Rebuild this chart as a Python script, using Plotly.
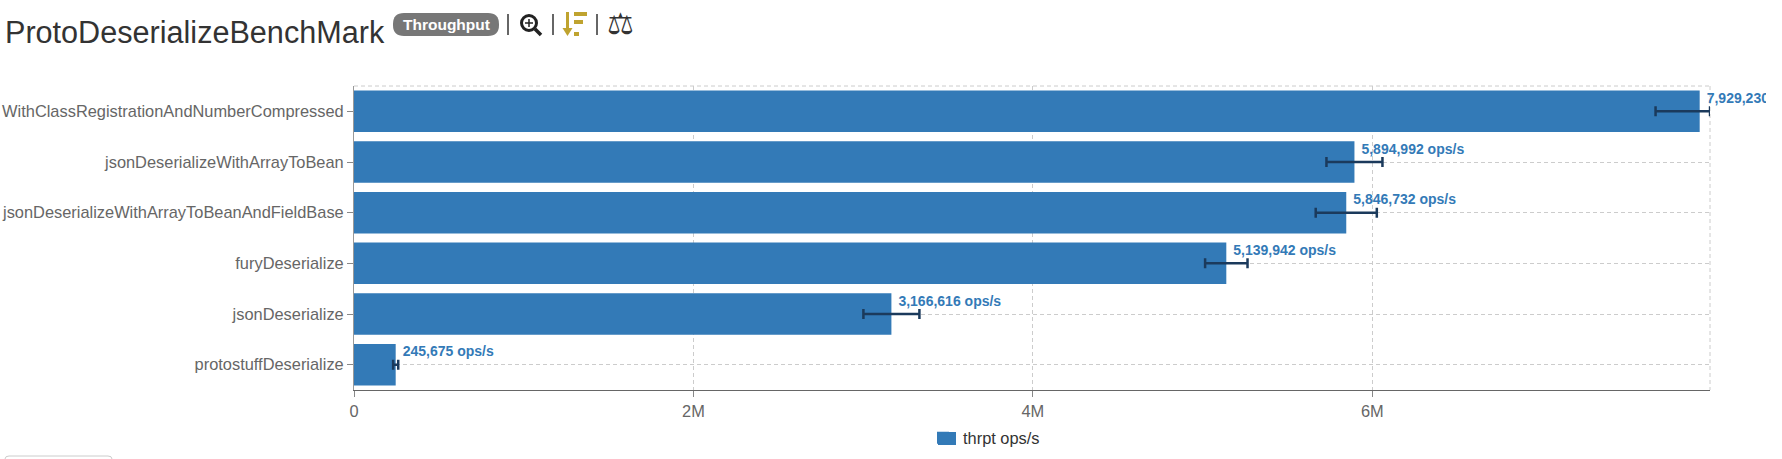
import plotly.graph_objects as go

categories = ["WithClassRegistrationAndNumberCompressed", "jsonDeserializeWithArrayToBean",
              "jsonDeserializeWithArrayToBeanAndFieldBase", "furyDeserialize",
              "jsonDeserialize", "protostuffDeserialize"]
thrpt = [7929230, 5894992, 5846732, 5139942, 3166616, 245675]
err_plus = [61000, 165000, 180000, 125000, 165000, 15000]
err_minus = [260000, 165000, 180000, 125000, 165000, 15000]
labels = ["7,929,230 ops/s", "5,894,992 ops/s", "5,846,732 ops/s", "5,139,942 ops/s", "3,166,616 ops/s", "245,675 ops/s"]
ticks = [0, 2000000, 4000000, 6000000]
tick_text = ["0", "2M", "4M", "6M"]
title = "ProtoDeserializeBenchMark"
badge = "Throughput"
legend_name = "thrpt ops/s"

W, H = 1782, 459
L, R, T, B, CLIP = 354, 1710, 86, 390, 1766
XMAX = 7990000
XMAX2 = XMAX * (CLIP - L) / (R - L)
BLUE = "#337ab7"
GOLD = "#bfa32f"
INK = "#222222"
def px(x): return (x - L) / (CLIP - L)
def py(y): return (B - y) / (B - T)
PXPERVAL = (R - L) / XMAX
ROWPX = (B - T) / len(categories)

fig = go.Figure()
fig.add_trace(go.Bar(y=categories, x=thrpt, orientation="h", name=legend_name, width=0.82,
                     marker=dict(color=BLUE, line=dict(width=0)),
                     error_x=dict(type="data", symmetric=False, array=err_plus, arrayminus=err_minus,
                                  color="#1b3a5c", thickness=2.5, width=5),
                     cliponaxis=False, hoverinfo="x+y"))
n = len(thrpt)
fig.add_trace(go.Scatter(x=[v + 7 / PXPERVAL for v in thrpt],
                         y=[n - 1 - i + 5 / ROWPX for i in range(n)],
                         text=labels, mode="text", textposition="top right",
                         textfont=dict(family="Liberation Sans", size=14, color=BLUE, weight="bold"),
                         xaxis="x2", yaxis="y2", showlegend=False, cliponaxis=True, hoverinfo="skip"))

axfont = dict(family="Liberation Sans", size=16.4, color="#666666")
GRID = "4px,3px"
fig.update_layout(
    width=W, height=H, autosize=False, paper_bgcolor="white", plot_bgcolor="rgba(0,0,0,0)",
    margin=dict(l=L, r=W - CLIP, t=T, b=H - B, pad=0, autoexpand=False), bargap=0.18,
    font=dict(family="Liberation Sans", size=14, color="#333333"),
    xaxis=dict(range=[0, XMAX], domain=[0, px(R)], tickvals=ticks, ticktext=tick_text, tickfont=axfont,
               ticks="outside", ticklen=6, tickcolor="#888888", showline=True, linecolor="#666666", linewidth=1,
               showgrid=True, gridcolor="#cccccc", griddash=GRID, gridwidth=1, zeroline=False),
    yaxis=dict(categoryorder="array", categoryarray=categories[::-1], tickfont=axfont, ticks="outside", ticklen=6,
               tickcolor="#888888", showline=True, linecolor="#999999", linewidth=1,
               showgrid=True, gridcolor="#cccccc", griddash=GRID, gridwidth=1, zeroline=False),
    xaxis2=dict(range=[0, XMAX2], domain=[0, 1], anchor="y2", visible=False),
    yaxis2=dict(range=[-0.5, 5.5], domain=[0, 1], anchor="x2", visible=False),
    legend=dict(orientation="h", x=px(923), y=py(438), xanchor="left", yanchor="middle", bgcolor="rgba(0,0,0,0)",
                font=dict(family="Liberation Sans", size=16.4, color="#333333"), itemwidth=30),
    showlegend=True,
)

def line(x0, y0, x1, y1, color, width, dash="solid", layer="above"):
    return dict(type="line", xref="paper", yref="paper", x0=px(x0), x1=px(x1), y0=py(y0), y1=py(y1),
                line=dict(color=color, width=width, dash=dash), layer=layer)
def rect(x0, y0, x1, y1, fill):
    return dict(type="rect", xref="paper", yref="paper", x0=px(x0), x1=px(x1), y0=py(y0), y1=py(y1),
                fillcolor=fill, line=dict(width=0))
def pill(x0, y0, x1, y1, r, fill):
    p = (f"M {px(x0+r)} {py(y0)} L {px(x1-r)} {py(y0)} Q {px(x1)} {py(y0)} {px(x1)} {py(y0+r)} "
         f"L {px(x1)} {py(y1-r)} Q {px(x1)} {py(y1)} {px(x1-r)} {py(y1)} L {px(x0+r)} {py(y1)} "
         f"Q {px(x0)} {py(y1)} {px(x0)} {py(y1-r)} L {px(x0)} {py(y0+r)} Q {px(x0)} {py(y0)} {px(x0+r)} {py(y0)} Z")
    return dict(type="path", xref="paper", yref="paper", path=p, fillcolor=fill, line=dict(width=0))

shapes = [
    line(L, T, R, T, "#cccccc", 1, GRID, "below"),
    line(R, T, R, B, "#cccccc", 1, GRID, "below"),
    pill(393, 13, 499, 36, 11, "#777777"),
    line(508, 14, 508, 35, "#333333", 1.5),
    line(553, 14, 553, 35, "#333333", 1.5),
    line(597, 14, 597, 35, "#333333", 1.5),
    dict(type="circle", xref="paper", yref="paper", x0=px(521.5), x1=px(536.5), y0=py(30.5), y1=py(15.5), line=dict(color=INK, width=3)),
    line(535, 29, 541, 35, INK, 3.5),
    line(525, 23, 533, 23, INK, 1.5),
    line(529, 19, 529, 27, INK, 1.5),
    rect(574, 12, 587, 16, GOLD),
    rect(574, 20, 583, 24, GOLD),
    rect(574, 32, 579, 36, GOLD),
    line(567.5, 12, 567.5, 30, GOLD, 3),
    dict(type="path", xref="paper", yref="paper", path=f"M {px(562.5)} {py(28)} L {px(572.5)} {py(28)} L {px(567.5)} {py(36)} Z",
         fillcolor=GOLD, line=dict(width=0)),
    rect(938, 432, 956, 445, BLUE),
    dict(type="path", xref="paper", yref="paper",
         path=f"M {px(5)} {py(470)} L {px(5)} {py(459)} Q {px(5)} {py(456)} {px(9)} {py(456)} L {px(108)} {py(456)} Q {px(112)} {py(456)} {px(112)} {py(459)} L {px(112)} {py(470)}",
         line=dict(color="#cccccc", width=1)),
]
annos = [
    dict(text=title, x=px(3), y=py(32), xref="paper", yref="paper", xanchor="left", yanchor="middle", showarrow=False,
         font=dict(family="Liberation Sans", size=30.6, color="#333333")),
    dict(text="<b>" + badge + "</b>", x=px(446), y=py(24.5), xref="paper", yref="paper", xanchor="center", yanchor="middle",
         showarrow=False, font=dict(family="Liberation Sans", size=15.5, color="white")),
    dict(text="⚖", x=px(620), y=py(24), xref="paper", yref="paper", xanchor="center", yanchor="middle", showarrow=False,
         font=dict(family="DejaVu Sans", size=30, color="#333333")),
]
fig.update_layout(shapes=shapes, annotations=annos)
fig.write_html("out.html", post_script="document.body.style.margin='0';", config={"displayModeBar": False})
